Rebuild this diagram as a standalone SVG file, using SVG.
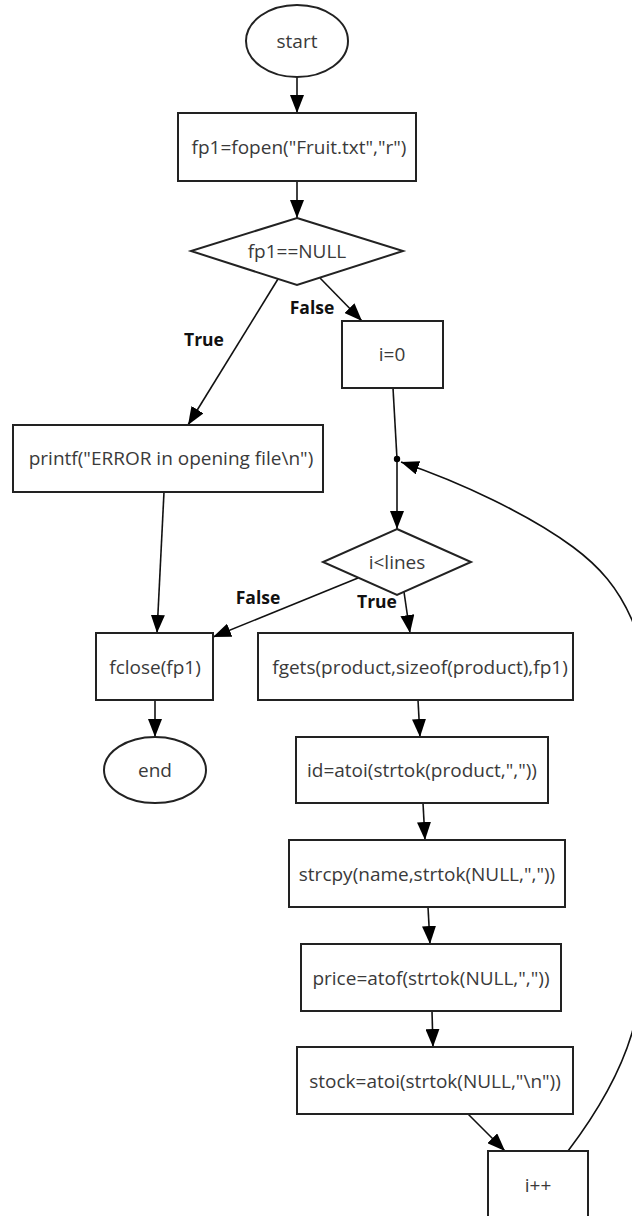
<svg xmlns="http://www.w3.org/2000/svg" width="632" height="1216" viewBox="0 0 632 1216">
<defs>
<marker id="ah" markerUnits="userSpaceOnUse" markerWidth="18" markerHeight="14" refX="18" refY="7" orient="auto">
<path d="M0,0 L18,7 L0,14 z" fill="#000"/>
</marker>
<style>
.n{fill:#fff;stroke:#222;stroke-width:2}
.t{font-family:"Open Sans","Noto Sans",sans-serif;font-size:19px;fill:#3a3a3a;text-anchor:middle;dominant-baseline:central}
.l{font-family:"Open Sans","Noto Sans",sans-serif;font-size:17.5px;font-weight:bold;fill:#111;text-anchor:middle;dominant-baseline:central}
.e{fill:none;stroke:#111;stroke-width:1.6}
.a{marker-end:url(#ah)}
</style>
</defs>
<rect width="632" height="1216" fill="#fff"/>
<g id="connectors">
<line class="e a" x1="297" y1="77" x2="297" y2="113"/>
<line class="e a" x1="297" y1="181" x2="297" y2="218"/>
<line class="e a" x1="278" y1="279" x2="188" y2="425"/>
<line class="e a" x1="320" y1="278" x2="362" y2="321"/>
<line class="e" x1="393" y1="388" x2="397" y2="459"/>
<line class="e a" x1="397" y1="459" x2="397" y2="529"/>
<line class="e a" x1="164" y1="492" x2="157" y2="633"/>
<line class="e a" x1="358" y1="578" x2="213" y2="637"/>
<line class="e a" x1="404" y1="592" x2="410" y2="633"/>
<line class="e a" x1="155" y1="700" x2="155" y2="737"/>
<line class="e a" x1="418" y1="700" x2="420" y2="737"/>
<line class="e a" x1="423" y1="803" x2="425" y2="840"/>
<line class="e a" x1="428" y1="907" x2="430" y2="944"/>
<line class="e a" x1="432" y1="1011" x2="433" y2="1047"/>
<line class="e a" x1="468" y1="1114" x2="505" y2="1151"/>
<path class="e a" d="M568,1151 C590,1122 618,1080 632,1033 C655,955 672,730 632,620 C618,588 600,567 573,547 C530,515 460,482 401,462"/>
<circle cx="397" cy="459" r="3.2" fill="#000"/>
<text class="l" x="204" y="339">True</text>
<text class="l" x="312" y="307">False</text>
<text class="l" x="258" y="597">False</text>
<text class="l" x="377" y="601">True</text>
</g>
<g id="start"><ellipse class="n" cx="297" cy="41" rx="51" ry="36"/><text class="t" x="297" y="41">start</text></g>
<g id="fopen"><rect class="n" x="178" y="113" width="238" height="68"/><text class="t" x="299" y="147">fp1=fopen("Fruit.txt","r")</text></g>
<g id="cond1"><polygon class="n" points="297,218 403,251 297,285 191,251"/><text class="t" x="297" y="251">fp1==NULL</text></g>
<g id="i0"><rect class="n" x="342" y="321" width="101" height="67"/><text class="t" x="392" y="354">i=0</text></g>
<g id="printf"><rect class="n" x="13" y="425" width="310" height="67"/><text class="t" x="171" y="458">printf("ERROR in opening file\n")</text></g>
<g id="cond2"><polygon class="n" points="397,529 471,562 397,595 323,562"/><text class="t" x="397" y="562">i&lt;lines</text></g>
<g id="fclose"><rect class="n" x="96" y="633" width="117" height="67"/><text class="t" x="155" y="667">fclose(fp1)</text></g>
<g id="fgets"><rect class="n" x="258" y="633" width="315" height="67"/><text class="t" x="420" y="667">fgets(product,sizeof(product),fp1)</text></g>
<g id="end"><ellipse class="n" cx="155" cy="770" rx="51" ry="33"/><text class="t" x="155" y="770">end</text></g>
<g id="id"><rect class="n" x="296" y="737" width="252" height="66"/><text class="t" x="422" y="770">id=atoi(strtok(product,","))</text></g>
<g id="strcpy"><rect class="n" x="289" y="840" width="276" height="67"/><text class="t" x="427" y="874">strcpy(name,strtok(NULL,","))</text></g>
<g id="price"><rect class="n" x="301" y="944" width="260" height="67"/><text class="t" x="431" y="978">price=atof(strtok(NULL,","))</text></g>
<g id="stock"><rect class="n" x="297" y="1047" width="276" height="67"/><text class="t" x="435" y="1081">stock=atoi(strtok(NULL,"\n"))</text></g>
<g id="inc"><rect class="n" x="488" y="1151" width="100" height="67"/><text class="t" x="538" y="1185">i++</text></g>
</svg>
